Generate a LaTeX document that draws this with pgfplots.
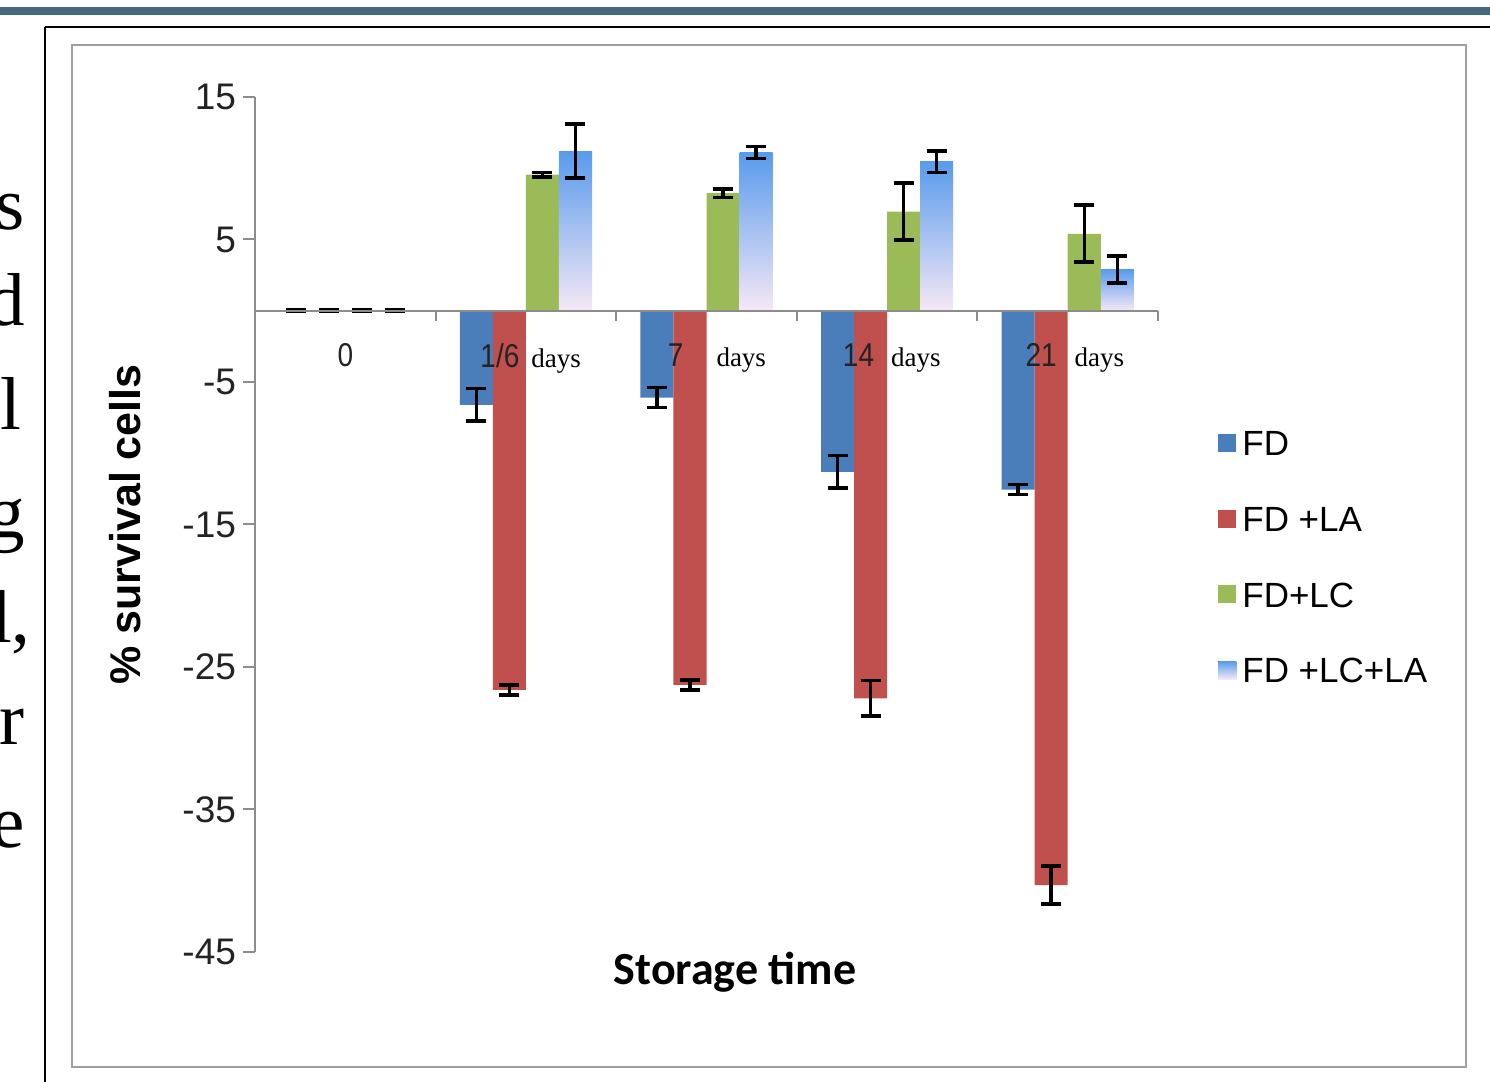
\documentclass[border=0pt]{standalone}
\usepackage{pgfplots}
\pgfplotsset{compat=1.18}
\usepackage{pgfplotstable}
\usepackage{fontspec}
\setmainfont{Liberation Serif}
\setsansfont{Liberation Sans}
\newfontfamily\carlito{Carlito}
\definecolor{fdblue}{RGB}{74,126,187}
\definecolor{lared}{RGB}{192,80,77}
\definecolor{lcgreen}{RGB}{155,187,89}
\definecolor{lctop}{RGB}{88,155,236}
\definecolor{lcmid}{RGB}{165,198,240}
\definecolor{lcbot}{RGB}{246,232,246}
\definecolor{barteal}{RGB}{70,105,127}
\definecolor{axgray}{RGB}{140,140,140}
\definecolor{txt}{RGB}{35,35,35}

% x = category index; columns: value and error for each series
\pgfplotstableread{
x fd fde la lae lc lce
0 0 0.05 0 0.05 0 0.05
1 -6.6 1.15 -26.6 0.35 9.55 0.15
2 -6.1 0.7 -26.25 0.35 8.25 0.3
3 -11.3 1.15 -27.2 1.25 6.95 2.0
4 -12.55 0.35 -40.3 1.35 5.4 2.0
}\survdata

\newcommand{\numf}{\sffamily\fontsize{16.5}{18}\selectfont\color{txt}}
\newcommand{\xl}[3]{\llap{\scalebox{0.85}[1]{\numf #1}\hspace{#2}}\rlap{\hspace{#3}\rmfamily\fontsize{13.5}{15}\selectfont days}}

\pgfplotsset{
  errs/.style={error bars/.cd, y dir=both, y explicit, error mark=|,
    error bar style={line width=1.7pt, draw=black, solid},
    error mark options={line width=1.8pt, draw=black, mark size=5pt, solid}},
  lcbar/.style={ybar, bar width=0.183, bar shift=0, top color=lctop, middle color=lcmid, bottom color=lcbot, draw=none, forget plot, errs},
}

\begin{document}
\begin{tikzpicture}
\useasboundingbox (0,0) rectangle (745pt,541pt);
% slide decorations
\fill[barteal] (0,533.5pt) rectangle (745pt,537.5pt);
\draw[black, line width=0.8pt] (22.5pt,527.5pt) -- (745pt,527.5pt);
\draw[black, line width=0.8pt] (22.5pt,527.5pt) -- (22.5pt,-2pt);
\draw[gray!75, line width=1.3pt] (36pt,7.5pt) rectangle (733pt,518.5pt);
% clipped slide text at left
\begin{scope}[every node/.style={anchor=base east, inner sep=0pt, font=\rmfamily\fontsize{37.5}{40}\selectfont}]
\node at (12.5pt,426pt) {s};
\node at (12.5pt,378pt) {d};
\node at (11pt,326pt) {al};
\node at (12.5pt,272pt) {g};
\node at (15.5pt,219.5pt) {al,};
\node at (12.5pt,168.5pt) {r};
\node at (12.5pt,117pt) {e};
\end{scope}
\begin{axis}[
  at={(127.5pt,65pt)}, anchor=south west,
  scale only axis, width=451.5pt, height=427.5pt,
  axis x line=middle, axis y line=left,
  axis on top,
  axis line style={-, draw=axgray, line width=1pt},
  xmin=-0.5, xmax=4.5, ymin=-45, ymax=15,
  ytick={-45,-35,-25,-15,-5,5,15},
  yticklabels={-45,-35,-25,-15,-5,5,15},
  yticklabel style={font=\sffamily\fontsize{18.5}{20}\selectfont, text=txt},
  xtick={0,1,2,3,4},
  xticklabels={{\scalebox{0.85}[1]{\numf 0}}, {\xl{1/6}{3.25pt}{2.75pt}}, {\xl{7}{11.5pt}{5pt}}, {\xl{14}{6.5pt}{2pt}}, {\xl{21}{5.5pt}{3.5pt}}},
  minor xtick={0.5,1.5,2.5,3.5,4.5},
  tick align=outside,
  major tick length=6pt, minor tick length=5pt,
  tick style={draw=axgray, line width=1pt},
  major x tick style={draw=none},
  xticklabel style={yshift=-7pt},
  every axis x label/.style={at={(axis description cs:0.5316,-0.0234)}, anchor=center, font=\carlito\bfseries\fontsize{23}{25}\selectfont},
  every axis y label/.style={at={(axis description cs:-0.144,0.5)}, rotate=90, anchor=center, font=\sffamily\bfseries\fontsize{21.5}{23}\selectfont},
  xlabel={Storage time},
  ylabel={\% survival cells},
  legend style={at={(axis description cs:1.0664,0.613)}, anchor=north west, draw=none, fill=none, inner sep=0pt,
    font=\sffamily\fontsize{17.5}{19}\selectfont, row sep=23.3pt, column sep=2pt,
    nodes={inner sep=1pt, text height=12.6pt, text depth=0pt}},
  legend cell align=left,
  clip=false,
]
\addplot[ybar, bar width=0.183, bar shift=0, fill=fdblue, draw=none,
  legend image code/.code={\fill[fdblue] (0pt,-4.5pt) rectangle (9pt,4.5pt);}, errs]
  table[x expr=\thisrow{x}-0.2745, y=fd, y error=fde]{\survdata};
\addlegendentry{FD}
\addplot[ybar, bar width=0.183, bar shift=0, fill=lared, draw=none,
  legend image code/.code={\fill[lared] (0pt,-4.5pt) rectangle (9pt,4.5pt);}, errs]
  table[x expr=\thisrow{x}-0.0915, y=la, y error=lae]{\survdata};
\addlegendentry{FD +LA}
\addplot[ybar, bar width=0.183, bar shift=0, fill=lcgreen, draw=none,
  legend image code/.code={\fill[lcgreen] (0pt,-4.5pt) rectangle (9pt,4.5pt);}, errs]
  table[x expr=\thisrow{x}+0.0915, y=lc, y error=lce]{\survdata};
\addlegendentry{FD+LC}
% FD+LC+LA: one plot per bar so that each bar carries its own gradient
\addplot[ybar, bar width=0.183, bar shift=0, top color=lctop, middle color=lcmid, bottom color=lcbot, draw=none,
  legend image code/.code={\fill[top color=lctop, bottom color=lcbot, draw=none] (0pt,-4.5pt) rectangle (9pt,4.5pt);}, errs]
  coordinates {(0.2745,0) +- (0,0.05)};
\addlegendentry{FD +LC+LA}
\addplot[lcbar] coordinates {(1.2745,11.2) +- (0,1.9)};
\addplot[lcbar] coordinates {(2.2745,11.1) +- (0,0.42)};
\addplot[lcbar] coordinates {(3.2745,10.45) +- (0,0.75)};
\addplot[lcbar] coordinates {(4.2745,2.9) +- (0,0.95)};
\end{axis}
\end{tikzpicture}
\end{document}
